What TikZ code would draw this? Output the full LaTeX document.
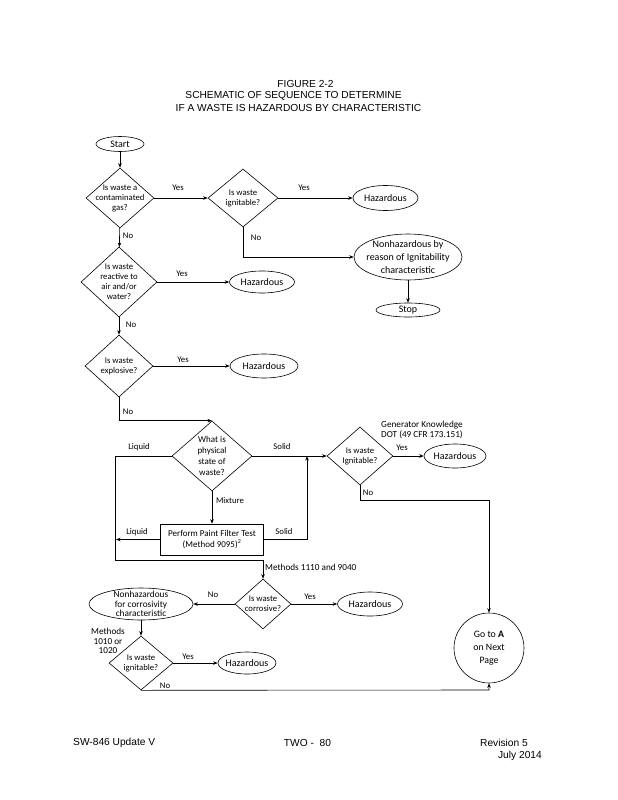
\documentclass[tikz,border=0pt]{standalone}
\usepackage{fontspec}
\setmainfont{Liberation Sans}
\newfontfamily\calfont{Carlito}
\usetikzlibrary{shapes.geometric,arrows.meta}
\begin{document}
\begin{tikzpicture}[x=1pt,y=-1pt,
 lw/.style={line width=0.6pt},
 dia/.style={draw, diamond, inner sep=0pt, lw},
 ell/.style={draw, ellipse, inner sep=0pt, lw},
 dtxt/.style={font=\calfont\fontsize{8.7}{10}\selectfont, align=center, inner sep=0pt},
 etxt/.style={font=\calfont\fontsize{10}{12.5}\selectfont, align=center, inner sep=0pt},
 lab/.style={font=\calfont\fontsize{8.7}{10}\selectfont, inner sep=0pt, align=center},
 hdr/.style={font=\fontsize{10.2}{12}\selectfont, inner sep=0pt},
 arr/.style={lw, -{Stealth[length=4.5pt,width=3.5pt]}}]
\useasboundingbox (0,0) rectangle (618,800);
% header
\node[hdr] (t1) at (305.5,84) {FIGURE 2-2};
\node[hdr] (t2) at (293.5,96) {SCHEMATIC OF SEQUENCE TO DETERMINE};
\node[hdr] (t3) at (298.5,107.5) {IF A WASTE IS HAZARDOUS BY CHARACTERISTIC};
% footer
\node[hdr, anchor=west] (f1) at (73,743) {SW-846 Update V};
\node[hdr] (f2) at (307.5,743) {TWO -\ \ 80};
\node[hdr, anchor=west] (f3) at (480,743) {Revision 5};
\node[hdr, anchor=east] (f4) at (542,755.5) {July 2014};

% shapes
\node[ell, minimum width=48pt, minimum height=15pt] (start) at (120,144) {};
\node[etxt] at (start) {Start};
\node[dia, minimum width=68pt, minimum height=60pt] (d1) at (120,198) {};
\node[dtxt] at (d1) {Is waste a\\contaminated\\gas?};
\node[dia, minimum width=70pt, minimum height=58pt] (d2) at (243,198) {};
\node[dtxt] at (d2) {Is waste\\ignitable?};
\node[ell, minimum width=65pt, minimum height=25pt] (haz1) at (385.5,198) {};
\node[etxt] at (haz1) {Hazardous};
\node[ell, minimum width=108pt, minimum height=46pt] (nh1) at (408,257) {};
\node[etxt, font=\calfont\fontsize{10}{13}\selectfont] at (nh1) {Nonhazardous by\\reason of Ignitability\\characteristic};
\node[ell, minimum width=64pt, minimum height=14pt] (stop) at (408,310) {};
\node[etxt] at (stop) {Stop};

\node[dia, minimum width=76pt, minimum height=70pt] (d3) at (119,282) {};
\node[dtxt] at (d3) {Is waste\\reactive to\\air and/or\\water?};
\node[ell, minimum width=65pt, minimum height=22pt] (haz2) at (262,282) {};
\node[etxt] at (haz2) {Hazardous};

\node[dia, minimum width=68pt, minimum height=62pt] (d4) at (119,366) {};
\node[dtxt] at (d4) {Is waste\\explosive?};
\node[ell, minimum width=68pt, minimum height=24pt] (haz3) at (264,366) {};
\node[etxt] at (haz3) {Hazardous};

\node[dia, minimum width=80pt, minimum height=70pt] (d5) at (212,456) {};
\node[dtxt, font=\calfont\fontsize{9}{10.8}\selectfont] at (d5) {What is\\physical\\state of\\waste?};

\node[dia, minimum width=66pt, minimum height=58pt] (d7) at (360,456) {};
\node[dtxt] at (d7) {Is waste\\Ignitable?};
\node[ell, minimum width=62pt, minimum height=24pt] (haz4) at (455,456) {};
\node[etxt] at (haz4) {Hazardous};

\node[draw, lw, minimum width=103pt, minimum height=31pt, inner sep=0pt] (box) at (212,539.5) {};
\node[dtxt, font=\calfont\fontsize{9}{11}\selectfont] at (box) {Perform Paint Filter Test\\(Method 9095)\textsuperscript{2}};

\node[dia, minimum width=56pt, minimum height=50pt] (d6) at (263,604) {};
\node[dtxt] at (d6) {Is waste\\corrosive?};
\node[ell, minimum width=104pt, minimum height=32pt] (nh2) at (141,604) {};
\node[etxt, font=\calfont\fontsize{9.3}{9.5}\selectfont] at (nh2) {Nonhazardous\\for corrosivity\\characteristic};
\node[ell, minimum width=65pt, minimum height=24pt] (haz5) at (370,604) {};
\node[etxt] at (haz5) {Hazardous};

\node[dia, minimum width=64pt, minimum height=54pt] (d8) at (141,663) {};
\node[dtxt] at (d8) {Is waste\\ignitable?};
\node[ell, minimum width=58pt, minimum height=22pt] (haz6) at (247,663) {};
\node[etxt] at (haz6) {Hazardous};

\node[draw, lw, circle, minimum size=70pt, inner sep=0pt] (go) at (489,648) {};
\node[etxt, font=\calfont\fontsize{9.8}{13}\selectfont] at (go) {Go to \textbf{A}\\on Next\\Page};

% coordinates
\coordinate (lq1) at (115,456);
\coordinate (lq2) at (115,560);
\coordinate (lq3) at (116,539.5);
\coordinate (s1) at (307,539.5);
\coordinate (s2) at (307,456);
\coordinate (n7) at (489,500);
\coordinate (n8) at (489,690);

% connectors
\draw[arr] (start) -- (d1);
\draw[arr] (d1) -- (d2);
\draw[arr] (d2) -- (haz1);
\draw[arr] (d2.south) |- (nh1.west);
\draw[arr] (nh1) -- (stop);
\draw[arr] (d1) -- (d3);
\draw[arr] (d3) -- (haz2);
\draw[arr] (d3) -- (d4);
\draw[arr] (d4) -- (haz3);
\draw[arr] (d4.south) |- (d5.north);
\draw[arr] (d5.west) -- (lq1) -- (lq2) -| (d6.north);
\draw[arr] (d5) -- (box);
\draw[arr] (box.west) -- (lq3);
\draw[arr] (box.east) -- (s1) -- (s2);
\draw[arr] (d5) -- (d7);
\draw[arr] (d7) -- (haz4);
\draw[arr] (d7.south) |- (n7) -- (go.north);
\draw[arr] (d6) -- (nh2);
\draw[arr] (d6) -- (haz5);
\draw[arr] (nh2) -- (d8);
\draw[arr] (d8) -- (haz6);
\draw[arr] (d8.south) -- (n8) -- (go.south);

% labels
\node[lab] (l1) at (178,188) {Yes};
\node[lab] (l2) at (304,188) {Yes};
\node[lab] (l3) at (256,238) {No};
\node[lab] (l4) at (128,236) {No};
\node[lab] (l5) at (182,274) {Yes};
\node[lab] (l6) at (131,325) {No};
\node[lab] (l7) at (183,360) {Yes};
\node[lab] (l8) at (128,412) {No};
\node[lab] (l9) at (139,447) {Liquid};
\node[lab] (l10) at (282,447) {Solid};
\node[lab] (l11) at (230,501) {Mixture};
\node[lab] (l12) at (137,532) {Liquid};
\node[lab] (l13) at (284,532) {Solid};
\node[lab, anchor=west, align=left, font=\calfont\fontsize{9.2}{10}\selectfont] (l14) at (381,430) {Generator Knowledge\\DOT (49 CFR 173.151)};
\node[lab] (l15) at (402,448) {Yes};
\node[lab] (l16) at (368,493) {No};
\node[lab, anchor=west, font=\calfont\fontsize{9.2}{10}\selectfont] (l17) at (265,567) {Methods 1110 and 9040};
\node[lab] (l18) at (213,595) {No};
\node[lab] (l19) at (310,597) {Yes};
\node[lab, font=\calfont\fontsize{9.2}{9.5}\selectfont] (l20) at (108,641) {Methods\\1010 or\\1020};
\node[lab] (l21) at (188,657) {Yes};
\node[lab] (l22) at (165,686) {No};
\end{tikzpicture}
\end{document}
